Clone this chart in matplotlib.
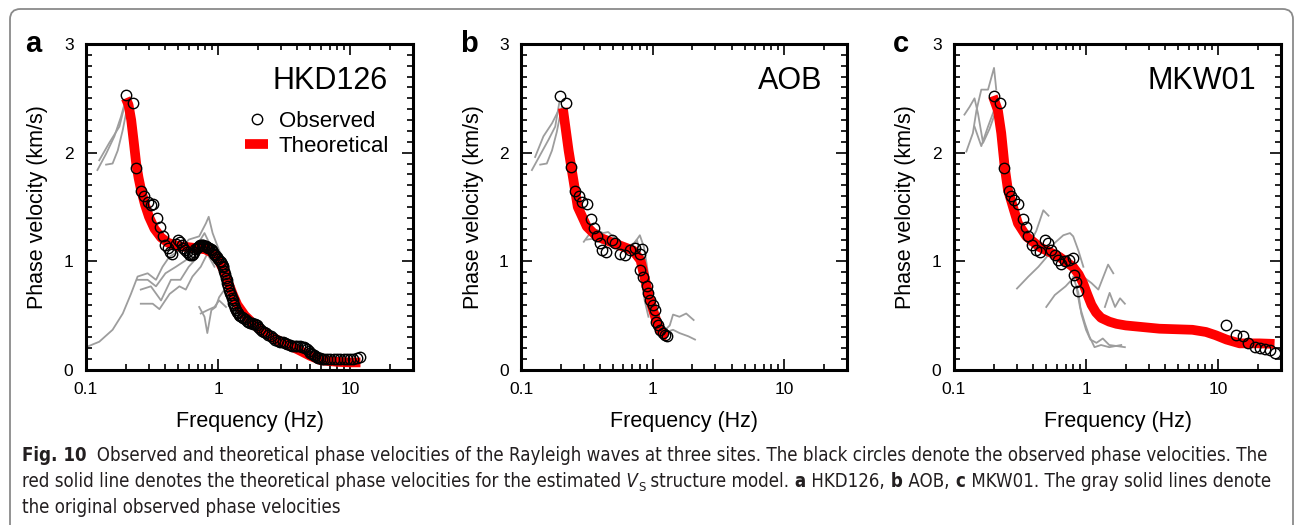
import matplotlib
matplotlib.use("Agg")
import matplotlib.pyplot as plt
from matplotlib.patches import FancyBboxPatch
from matplotlib.ticker import LogLocator, MultipleLocator, NullFormatter
from matplotlib import font_manager

plt.rcParams['font.family'] = ['Liberation Sans', 'DejaVu Sans']

# ---------------- data ----------------
# a: HKD126
obs_a_f = [0.200, 0.226, 0.239, 0.260, 0.275, 0.297, 0.310, 0.324, 0.343, 0.363,
           0.380, 0.400, 0.420, 0.430, 0.450, 0.480, 0.500, 0.515, 0.530, 0.545,
           0.560, 0.580, 0.600, 0.610, 0.630, 0.645, 0.660, 0.675, 0.690, 0.705,
           0.720, 0.735, 0.750, 0.770, 0.790, 0.805, 0.820, 0.840, 0.860, 0.880,
           0.895, 0.910, 0.930, 0.955, 0.980, 1.005, 1.030, 1.050, 1.070, 1.085,
           1.100, 1.115, 1.130, 1.145, 1.160, 1.180, 1.200, 1.215, 1.230, 1.250,
           1.270, 1.290, 1.310, 1.330, 1.350, 1.375, 1.400, 1.425, 1.450, 1.480,
           1.510, 1.550, 1.600, 1.650, 1.700, 1.750, 1.800, 1.850, 1.900, 1.960,
           2.020, 2.080, 2.150, 2.220, 2.300, 2.400, 2.500, 2.600, 2.700, 2.830,
           2.960, 3.080, 3.200, 3.350, 3.500, 3.650, 3.800, 4.000, 4.200, 4.350,
           4.500, 4.600, 4.700, 4.850, 5.000, 5.150, 5.300, 5.450, 5.600, 5.750,
           5.900, 6.100, 6.300, 6.700, 7.000, 7.500, 8.000, 8.400, 9.000, 9.500,
           10.00, 10.60, 11.20, 11.90]
obs_a_v = [2.53, 2.46, 1.86, 1.65, 1.60, 1.55, 1.52, 1.53, 1.40, 1.32,
           1.23, 1.15, 1.12, 1.09, 1.07, 1.16, 1.20, 1.18, 1.15, 1.12,
           1.10, 1.09, 1.07, 1.06, 1.06, 1.07, 1.09, 1.11, 1.12, 1.13,
           1.14, 1.15, 1.15, 1.15, 1.14, 1.14, 1.13, 1.12, 1.12, 1.11,
           1.10, 1.09, 1.07, 1.06, 1.04, 1.02, 1.00, 0.99, 0.98, 0.96,
           0.95, 0.91, 0.88, 0.85, 0.83, 0.80, 0.77, 0.74, 0.71, 0.69,
           0.66, 0.64, 0.62, 0.60, 0.57, 0.55, 0.53, 0.52, 0.51, 0.50,
           0.49, 0.48, 0.47, 0.455, 0.44, 0.435, 0.43, 0.425, 0.42, 0.41,
           0.40, 0.38, 0.36, 0.35, 0.34, 0.325, 0.31, 0.295, 0.28, 0.27,
           0.26, 0.255, 0.25, 0.24, 0.23, 0.225, 0.22, 0.22, 0.22, 0.215,
           0.21, 0.20, 0.19, 0.175, 0.16, 0.15, 0.14, 0.13, 0.12, 0.115,
           0.11, 0.105, 0.10, 0.10, 0.10, 0.10, 0.10, 0.10, 0.10, 0.10,
           0.10, 0.105, 0.11, 0.12]
theo_a_f = [0.20, 0.21, 0.22, 0.23, 0.24, 0.25, 0.26, 0.28, 0.30, 0.33, 0.37, 0.42,
            0.50, 0.60, 0.70, 0.80, 0.90, 1.00, 1.10, 1.20, 1.30, 1.40, 1.60, 1.80,
            2.00, 2.50, 3.00, 4.00, 5.00, 6.00, 8.00, 10.0, 12.0]
theo_a_v = [2.50, 2.44, 2.30, 2.10, 1.90, 1.77, 1.67, 1.52, 1.41, 1.30, 1.22, 1.17,
            1.14, 1.13, 1.12, 1.11, 1.08, 1.02, 0.92, 0.80, 0.69, 0.60, 0.50, 0.44,
            0.39, 0.31, 0.26, 0.19, 0.13, 0.09, 0.075, 0.07, 0.07]
gray_a = [
    ([0.122, 0.142, 0.164, 0.184, 0.199], [1.84, 1.99, 2.15, 2.33, 2.48]),
    ([0.142, 0.159, 0.174, 0.190, 0.203], [1.89, 1.90, 2.02, 2.21, 2.39]),
    ([0.126, 0.150, 0.179, 0.195], [1.93, 2.09, 2.24, 2.42]),
    ([0.10, 0.126, 0.159, 0.19, 0.219, 0.246, 0.293, 0.339, 0.38, 0.427, 0.51,
      0.60, 0.72, 0.81, 0.85, 0.91, 1.02, 1.15],
     [0.21, 0.26, 0.37, 0.52, 0.70, 0.86, 0.89, 0.83, 0.95, 1.04, 1.10,
      1.20, 1.23, 1.35, 1.41, 1.26, 1.10, 0.98]),
    ([0.246, 0.293, 0.339, 0.40, 0.48, 0.57, 0.68, 0.79, 0.89, 1.02],
     [0.83, 0.83, 0.77, 0.89, 0.95, 1.01, 1.13, 1.26, 1.13, 1.01]),
    ([0.26, 0.31, 0.37, 0.44, 0.52, 0.60, 0.70, 0.79, 0.91],
     [0.74, 0.77, 0.64, 0.83, 0.83, 0.95, 1.04, 1.13, 1.01]),
    ([0.26, 0.32, 0.36, 0.43, 0.51, 0.57, 0.64, 0.74, 0.83, 0.94],
     [0.61, 0.61, 0.56, 0.70, 0.77, 0.74, 0.86, 0.95, 1.07, 0.95]),
    ([0.72, 0.79, 0.83, 0.89, 0.96, 1.02, 1.12], [0.58, 0.49, 0.34, 0.55, 0.58, 0.67, 0.74]),
    ([0.74, 0.83, 0.94, 1.02, 1.15], [0.52, 0.55, 0.58, 0.64, 0.58]),
]

# b: AOB
obs_b_f = [0.199, 0.220, 0.239, 0.258, 0.274, 0.290, 0.316, 0.339, 0.360, 0.377,
           0.395, 0.410, 0.440, 0.490, 0.520, 0.566, 0.617, 0.675, 0.735, 0.800,
           0.830, 0.800, 0.850, 0.900, 0.927, 0.955, 1.010, 1.040, 1.060, 1.100,
           1.140, 1.190, 1.240, 1.290]
obs_b_v = [2.52, 2.46, 1.87, 1.65, 1.60, 1.55, 1.53, 1.39, 1.31, 1.23,
           1.17, 1.10, 1.09, 1.20, 1.17, 1.07, 1.06, 1.10, 1.12, 1.07,
           1.11, 0.92, 0.86, 0.77, 0.71, 0.64, 0.60, 0.55, 0.44, 0.41,
           0.37, 0.34, 0.32, 0.31]
theo_b_f = [0.208, 0.23, 0.25, 0.27, 0.316, 0.376, 0.50, 0.71, 0.81, 0.85, 0.90,
            0.95, 1.01, 1.07, 1.13, 1.24, 1.30]
theo_b_v = [2.41, 2.02, 1.75, 1.50, 1.32, 1.23, 1.17, 1.10, 1.01, 0.90, 0.77,
            0.66, 0.55, 0.45, 0.37, 0.32, 0.31]
gray_b = [
    ([0.121, 0.140, 0.162, 0.182, 0.196], [1.84, 1.98, 2.12, 2.24, 2.47]),
    ([0.140, 0.157, 0.172, 0.187, 0.204], [1.89, 1.90, 2.02, 2.19, 2.42]),
    ([0.128, 0.148, 0.172, 0.193], [1.96, 2.15, 2.27, 2.39]),
    ([0.30, 0.335, 0.376, 0.42, 0.46, 0.53, 0.63, 0.73, 0.80, 0.86, 0.90, 0.95, 1.01],
     [1.18, 1.26, 1.29, 1.26, 1.27, 1.20, 1.13, 1.17, 1.24, 1.13, 0.98, 0.77, 0.55]),
    ([0.316, 0.365, 0.41, 0.475, 0.565, 0.65, 0.76, 0.80, 0.82, 0.87, 0.93],
     [1.20, 1.21, 1.17, 1.20, 1.13, 1.10, 1.20, 1.07, 0.86, 0.64, 0.49]),
    ([0.63, 0.71, 0.78, 0.80, 0.85], [1.07, 1.13, 1.10, 0.95, 0.74]),
    ([1.20, 1.35, 1.43, 1.60, 1.80, 2.05], [0.35, 0.41, 0.51, 0.49, 0.52, 0.46]),
    ([1.20, 1.43, 1.60, 1.87, 2.10], [0.34, 0.37, 0.34, 0.31, 0.28]),
]

# c: MKW01
obs_c_f = [0.200, 0.222, 0.239, 0.260, 0.272, 0.285, 0.305, 0.333, 0.353, 0.363,
           0.390, 0.417, 0.447, 0.486, 0.515, 0.546, 0.580, 0.614, 0.650, 0.690,
           0.743, 0.795, 0.810, 0.845, 0.870,
           11.4, 13.6, 15.5, 16.9, 19.0, 20.7, 22.6, 24.6, 26.9]
obs_c_v = [2.52, 2.46, 1.86, 1.65, 1.60, 1.56, 1.53, 1.39, 1.32, 1.23,
           1.15, 1.10, 1.09, 1.20, 1.17, 1.10, 1.06, 1.01, 0.98, 1.00,
           1.01, 1.03, 0.87, 0.81, 0.73,
           0.41, 0.32, 0.31, 0.245, 0.215, 0.20, 0.19, 0.18, 0.16]
theo_c_f = [0.197, 0.215, 0.228, 0.242, 0.256, 0.28, 0.305, 0.353, 0.447, 0.63,
            0.795, 0.88, 0.95, 1.02, 1.10, 1.19, 1.30, 1.5, 1.7, 2.0, 3.6, 6.4, 8.1,
            9.6, 11.6, 14.6, 20.6, 26.8]
theo_c_v = [2.52, 2.39, 2.18, 1.87, 1.66, 1.50, 1.35, 1.23, 1.13, 1.04,
            0.95, 0.88, 0.80, 0.70, 0.60, 0.53, 0.48, 0.445, 0.425, 0.41, 0.38, 0.37,
            0.35, 0.32, 0.28, 0.245, 0.245, 0.24]
gray_c = [
    ([0.120, 0.131, 0.143, 0.152, 0.166, 0.186, 0.203], [2.35, 2.42, 2.50, 2.36, 2.09, 2.22, 2.35]),
    ([0.124, 0.139, 0.148, 0.161, 0.181, 0.201, 0.209], [2.01, 2.18, 2.39, 2.58, 2.58, 2.78, 2.58]),
    ([0.143, 0.161, 0.181, 0.197, 0.212], [2.24, 2.06, 2.24, 2.36, 2.48]),
    ([0.30, 0.366, 0.436, 0.504, 0.58, 0.673, 0.756, 0.80, 0.875, 0.955],
     [0.75, 0.86, 0.95, 1.04, 1.17, 1.24, 1.26, 1.23, 1.10, 0.95]),
    ([0.37, 0.42, 0.475, 0.52], [1.15, 1.28, 1.47, 1.42]),
    ([0.50, 0.58, 0.70, 0.82, 0.90, 1.10, 1.24, 1.47, 1.61],
     [0.58, 0.69, 0.77, 0.86, 0.88, 0.80, 0.74, 0.97, 0.89]),
    ([1.39, 1.51, 1.66, 1.81, 1.97], [0.58, 0.71, 0.58, 0.66, 0.61]),
    ([0.80, 0.875, 0.92, 1.00, 1.08, 1.20, 1.34, 1.50, 1.97],
     [0.86, 0.71, 0.52, 0.37, 0.28, 0.25, 0.29, 0.23, 0.21]),
    ([0.85, 0.90, 0.98, 1.06, 1.16, 1.30, 1.50, 1.85],
     [0.75, 0.58, 0.43, 0.31, 0.21, 0.23, 0.21, 0.23]),
]

panels = [
    ('a', 'HKD126', obs_a_f, obs_a_v, theo_a_f, theo_a_v, gray_a, 86, 413),
    ('b', 'AOB', obs_b_f, obs_b_v, theo_b_f, theo_b_v, gray_b, 521, 847),
    ('c', 'MKW01', obs_c_f, obs_c_v, theo_c_f, theo_c_v, gray_c, 954, 1281),
]

# caption runs: (text, style) with style r=regular, b=bold, i=italic, s=subscript
caption_lines = [
    [("Fig. 10", 'b'), ("  Observed and theoretical phase velocities of the Rayleigh waves at three sites. "
                        "The black circles denote the observed phase velocities. The", 'r')],
    [("red solid line denotes the theoretical phase velocities for the estimated", 'r'),
     (" V", 'i'), ("S", 's'), (" structure model.", 'r'), (" a", 'b'), (" HKD126,", 'r'),
     (" b", 'b'), (" AOB,", 'r'), (" c", 'b'), (" MKW01. The gray solid lines denote", 'r')],
    [("the original observed phase velocities", 'r')],
]

# ---------------- figure ----------------
W, H = 1295, 525
fig = plt.figure(figsize=(W / 100, H / 100), dpi=100)

# rounded frame around the whole figure (open at the bottom)
frame = FancyBboxPatch((10 / W, -0.1), (1293 - 10) / W, 1.1 - 9 / H,
                       boxstyle="round,pad=0,rounding_size=0.008",
                       transform=fig.transFigure, fill=False,
                       edgecolor='#8a8a8a', linewidth=1.3, mutation_aspect=W / H)
fig.patches.append(frame)

top, bottom = 44, 370
for letter, name, of, ov, tf, tv, gray, left, right in panels:
    ax = fig.add_axes([left / W, 1 - bottom / H, (right - left) / W, (bottom - top) / H])
    for gf, gv in gray:
        ax.plot(gf, gv, color='#9d9d9d', lw=1.3, zorder=1)
    ax.plot(tf, tv, color='#ff0000', lw=7, solid_capstyle='butt', zorder=2,
            label='Theoretical')
    ax.plot(of, ov, 'o', mfc='none', mec='black', mew=1.0, ms=7.5, zorder=3,
            label='Observed')

    ax.set_xscale('log')
    ax.set_xlim(0.1, 30)
    ax.set_ylim(0, 3)
    ax.set_xticks([0.1, 1, 10], ['0.1', '1', '10'])
    ax.xaxis.set_minor_locator(LogLocator(base=10, subs=range(2, 10)))
    ax.xaxis.set_minor_formatter(NullFormatter())
    ax.set_yticks([0, 1, 2, 3], ['0', '1', '2', '3'])
    ax.yaxis.set_minor_locator(MultipleLocator(0.1))
    ax.tick_params(which='both', direction='in', top=True, right=True,
                   labelsize=12.5, pad=9, width=1.2)
    ax.tick_params(which='major', length=8)
    ax.tick_params(which='minor', length=4.5)
    for s in ax.spines.values():
        s.set_linewidth(2.2)

    ax.set_ylabel('Phase velocity (km/s)', fontsize=15.5)
    ax.yaxis.set_label_coords(-0.115, 0.5)
    ax.set_xlabel('Frequency (Hz)', fontsize=15.5)
    ax.xaxis.set_label_coords(0.5, -0.125)

    ax.text(0.924, 0.862, name, transform=ax.transAxes, fontsize=22,
            ha='right', va='baseline')
    fig.text((left - 61) / W, 1 - 52 / H, letter, fontsize=21, fontweight='bold',
             ha='left', va='baseline')

    if letter == 'a':
        h, l = ax.get_legend_handles_labels()
        ax.legend(h[::-1], l[::-1], loc='upper right', bbox_to_anchor=(0.927, 0.795),
                  frameon=False, fontsize=16, handlelength=1.0, handletextpad=0.5,
                  labelspacing=0.2, borderpad=0, borderaxespad=0)

# ---------------- caption ----------------
# prefer a narrow sans face for the caption, like the journal's condensed type
fonts = font_manager.fontManager.ttflist
narrow = [f for f in fonts if 'Narrow' in f.name or 'Condensed' in f.name
          or f.stretch in ('condensed', 'semi-condensed')]


def pick(cands, bold, italic):
    for f in cands:
        w = str(f.weight).lower()
        is_bold = w in ('700', 'bold')
        is_italic = f.style in ('italic', 'oblique')
        if is_bold == bold and is_italic == italic:
            return font_manager.FontProperties(fname=f.fname)
    return None


cap_props = {}
if narrow:
    cap_props = {'r': pick(narrow, False, False), 'b': pick(narrow, True, False),
                 'i': pick(narrow, False, True)}
for key, wt, st in (('r', 'normal', 'normal'), ('b', 'bold', 'normal'), ('i', 'normal', 'italic')):
    if cap_props.get(key) is None:
        cap_props[key] = font_manager.FontProperties(family='Liberation Sans', weight=wt, style=st)
cap_props['s'] = cap_props['r']

renderer = fig.canvas.get_renderer()


def write_line(runs, y, size):
    x = 22
    made = []
    for text, kind in runs:
        fp = cap_props[kind].copy()
        fp.set_size(size * (0.7 if kind == 's' else 1.0))
        dy = 4 if kind == 's' else 0
        t = fig.text(x / W, 1 - (y + dy) / H, text, fontproperties=fp,
                     color='#231f20', ha='left', va='baseline')
        x = t.get_window_extent(renderer).x1
        made.append(t)
    return x, made


end, trial = write_line(caption_lines[0], 460, 12)
for t in trial:
    t.remove()
cap_size = 12 * (1272 - 22) / (end - 22)

for i, line in enumerate(caption_lines):
    write_line(line, 461 + i * 26, cap_size)

fig.savefig('out.png', dpi=100)
